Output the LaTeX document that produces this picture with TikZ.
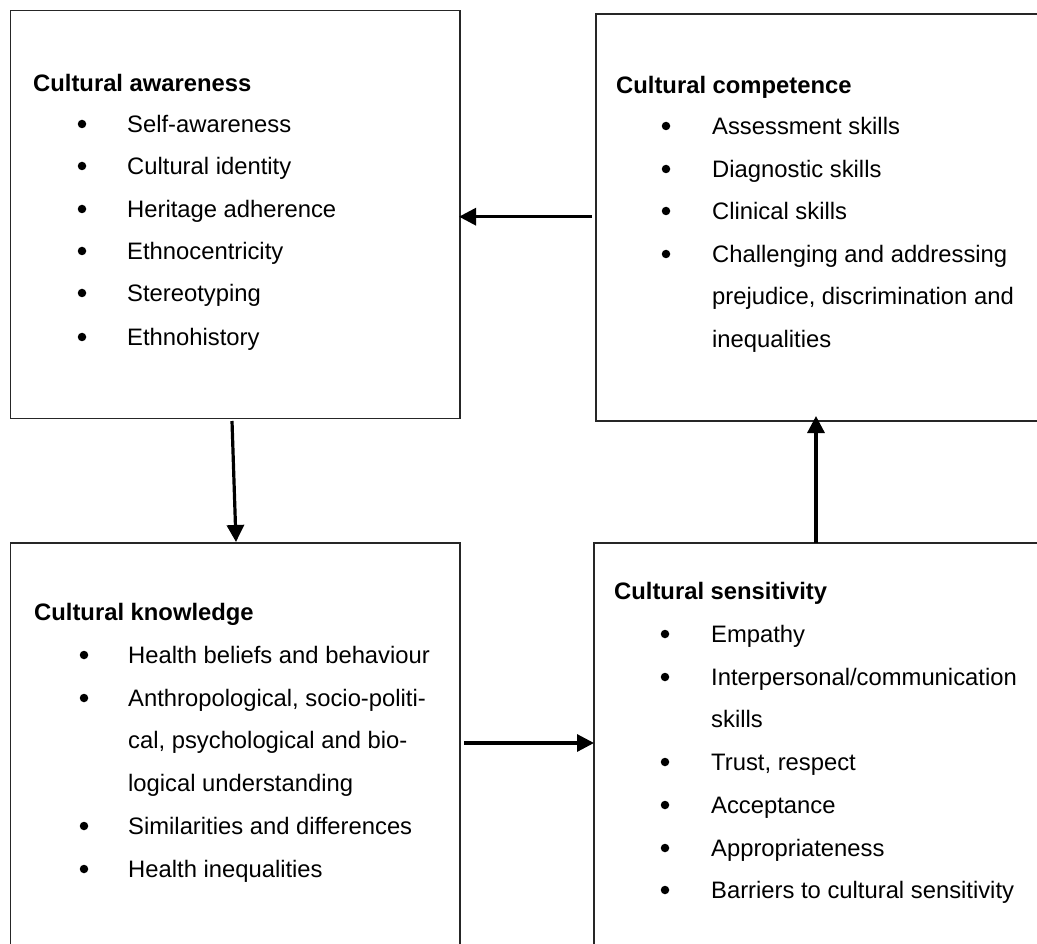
\documentclass[tikz,border=0pt]{standalone}
\usepackage{fontspec}
\setmainfont{Liberation Sans}
\usetikzlibrary{arrows.meta}
\tikzset{
  boxframe/.style={draw=black!85, line width=1.6pt, fill=none},
  ttl/.style={anchor=base west, inner sep=0pt, font=\fontsize{23.8}{28}\selectfont\bfseries},
  itm/.style={anchor=base west, inner sep=0pt, font=\fontsize{23.8}{28}\selectfont},
  bul/.style={circle, fill=black, draw=none, inner sep=0pt, minimum size=8.5pt},
  flow/.style={line width=3.2pt, -{Triangle[length=17pt,width=17pt]}}
}
\begin{document}
\begin{tikzpicture}[x=1pt,y=-1pt]
\useasboundingbox (0,0) rectangle (1037,944);
\clip (0,0) rectangle (1037,944);
% boxes
\draw[boxframe] (10.5,10.5) rectangle (460,418.5);
\draw[boxframe] (596,14) rectangle (1060,421);
\draw[boxframe] (10.5,543) rectangle (460,980);
\draw[boxframe] (594,543) rectangle (1060,980);
% Box 1
\node[ttl] (t1) at (33,91.5) {Cultural awareness};
\foreach \n/\y/\s in {a/124/Self-awareness, b/166/Cultural identity, c/209/Heritage adherence, d/251/Ethnocentricity, e/293/Stereotyping, f/337/Ethnohistory}{
  \node[bul] (bu1\n) at (82,\y) {};
  \node[itm] (it1\n) at (127,\y+8.5) {\s};
}
% Box 2
\node[ttl] (t2) at (616,93.5) {Cultural competence};
\foreach \n/\y/\s in {a/126/Assessment skills, b/169/Diagnostic skills, c/211/Clinical skills, d/254/Challenging and addressing}{
  \node[bul] (bu2\n) at (666,\y) {};
  \node[itm] (it2\n) at (712,\y+8.5) {\s};
}
\node[itm] (it2e) at (712,304.5) {prejudice, discrimination and};
\node[itm] (it2f) at (712,347.5) {inequalities};
% Box 3
\node[ttl] (t3) at (34,620.5) {Cultural knowledge};
\foreach \n/\y/\s in {a/655/Health beliefs and behaviour, b/698/{Anthropological, socio-politi-}, e/826/Similarities and differences, f/869/Health inequalities}{
  \node[bul] (bu3\n) at (84,\y) {};
  \node[itm] (it3\n) at (128,\y+8.5) {\s};
}
\node[itm] (it3c) at (128,748.5) {cal, psychological and bio-};
\node[itm] (it3d) at (128,791.5) {logical understanding};
% Box 4
\node[ttl] (t4) at (614,599.5) {Cultural sensitivity};
\foreach \n/\y/\s in {a/634/Empathy, b/677/{Interpersonal/communication}, d/762/{Trust, respect}, e/805/Acceptance, f/848/Appropriateness, g/890/Barriers to cultural sensitivity}{
  \node[bul] (bu4\n) at (665,\y) {};
  \node[itm] (it4\n) at (711,\y+8.5) {\s};
}
\node[itm] (it4c) at (711,727.5) {skills};
% connector ends
\coordinate (a1s) at (592,216.7);
\coordinate (a1e) at (459,216.7);
\coordinate (a2s) at (232,421);
\coordinate (a2e) at (236,542);
\coordinate (a3s) at (464,743);
\coordinate (a3e) at (594,743);
\coordinate (a4s) at (816,543);
\coordinate (a4e) at (816,416);
\draw[flow] (a1s) -- (a1e);
\draw[flow] (a2s) -- (a2e);
\draw[flow] (a3s) -- (a3e);
\draw[flow] (a4s) -- (a4e);
\end{tikzpicture}
\end{document}
